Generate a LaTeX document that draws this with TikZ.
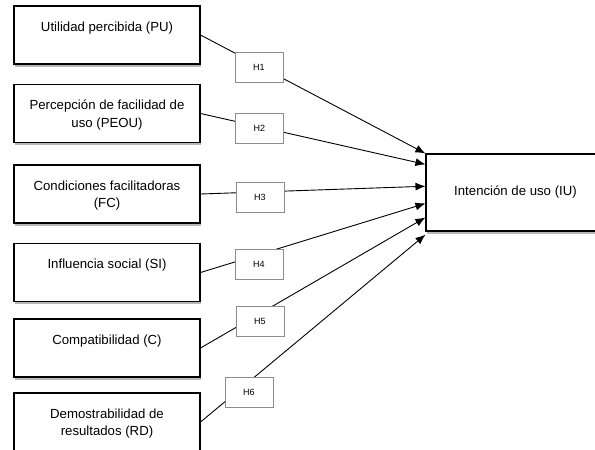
\documentclass[tikz,border=0pt]{standalone}
\usepackage{fontspec}
\setmainfont{Liberation Sans}
\usetikzlibrary{shadows, calc, arrows.meta}

\newcommand{\factortext}[1]{\parbox[c][50pt][t]{178pt}{\centering\rule{0pt}{21pt}#1}}

\begin{document}
\begin{tikzpicture}[x=1pt, y=-1pt,
                    factor/.style={draw,line width=1.1pt,fill=white,inner sep=4pt,
                                   drop shadow={shadow xshift=1pt,shadow yshift=-2.5pt,fill=black!40,opacity=0.7},
                                   font=\fontsize{13.2}{17.5}\selectfont},
                    outcome/.style={factor,minimum width=179pt,minimum height=77pt},
                    hypothesis/.style={draw=black!45,line width=0.6pt,fill=white,minimum width=48pt,minimum height=30pt,
                                       inner sep=0pt,font=\fontsize{9}{10}\selectfont},
                    effect arrow/.style={-{Latex[length=10pt,width=8pt]}, line width=0.9pt},
                   ]
  \clip (0,0) rectangle (595,450);
  \useasboundingbox (0,0) rectangle (595,450);

  \node[factor] (pu) at (107, 35) {\factortext{Utilidad percibida (PU)}};
  \node[factor] (peou) at (107, 113.5) {\factortext{Percepción de facilidad de\\uso (PEOU)}};
  \node[factor] (fc) at (107, 194) {\factortext{Condiciones facilitadoras\\(FC)}};
  \node[factor] (si) at (107, 272.5) {\factortext{Influencia social (SI)}};
  \node[factor] (c) at (107, 348) {\factortext{Compatibilidad (C)}};
  \node[factor] (rd) at (107, 422) {\factortext{Demostrabilidad de\\resultados (RD)}};

  \node[outcome] (iu) at (515.5, 192.5) {Intención de uso (IU)};

  \draw[effect arrow] (pu.east) -- (iu.north west);
  \draw[effect arrow] (peou.east) -- ($ (iu.north west) ! 0.14 ! (iu.south west) $);
  \draw[effect arrow] (fc.east) -- ($ (iu.north west) ! 0.42 ! (iu.south west) $);
  \draw[effect arrow] (si.east) -- ($ (iu.north west) ! 0.64 ! (iu.south west) $);
  \draw[effect arrow] (c.east) -- ($ (iu.north west) ! 0.82 ! (iu.south west) $);
  \draw[effect arrow] (rd.east) -- ($ (iu.north west) ! 1.04 ! (iu.south west) $);

  \node[hypothesis] (h1) at (259, 67) {H1};
  \node[hypothesis] (h2) at (259.5, 128.5) {H2};
  \node[hypothesis] (h3) at (260, 197) {H3};
  \node[hypothesis] (h4) at (259, 264.5) {H4};
  \node[hypothesis] (h5) at (260, 321.5) {H5};
  \node[hypothesis] (h6) at (249, 392) {H6};
\end{tikzpicture}
\end{document}
